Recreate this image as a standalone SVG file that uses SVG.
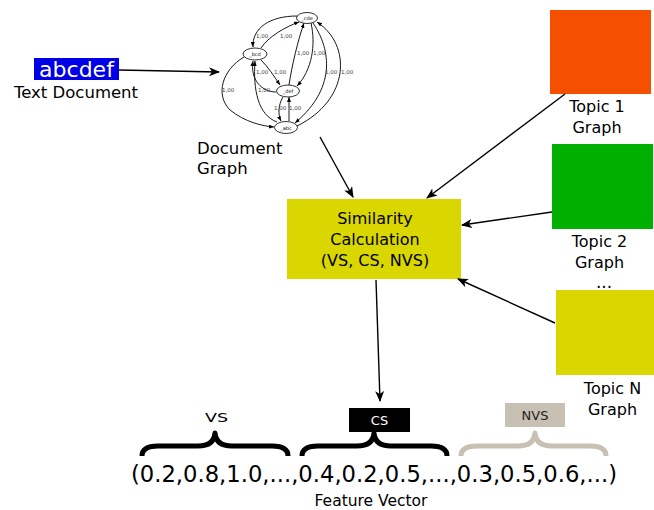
<svg xmlns="http://www.w3.org/2000/svg" width="654" height="510" viewBox="0 0 654 510">
<defs>
<marker id="ah" markerWidth="11" markerHeight="9" refX="10" refY="4.5" orient="auto" markerUnits="userSpaceOnUse">
<path d="M0,0 L11,4.5 L0,9 L3,4.5 Z" fill="#000"/>
</marker>
<marker id="sm" markerWidth="5" markerHeight="4" refX="5" refY="2" orient="auto" markerUnits="userSpaceOnUse">
<path d="M0,0 L5,2 L0,4 Z" fill="#000"/>
</marker>
</defs>
<style>
text{font-family:"DejaVu Sans","Liberation Sans",sans-serif;fill:#000}
.lbl{font-size:16px}
.mid{text-anchor:middle}
.gn{fill:#fff;stroke:#000;stroke-width:0.8}
.gt{font-size:5px;text-anchor:middle}
.el{font-size:5.5px;fill:#444}
.ge{fill:none;stroke:#000;stroke-width:0.9;marker-end:url(#sm)}
.con{fill:none;stroke:#000;stroke-width:1.4;marker-end:url(#ah)}
.brace{fill:none;stroke-width:5;stroke-linejoin:round;stroke-linecap:butt}
</style>

<g id="text-document">
<rect x="34" y="58" width="85" height="22" fill="#0000e6"/>
<text x="76.5" y="77" class="mid" style="font-size:22px;fill:#fff">abcdef</text>
<text x="76" y="98" class="mid" style="font-size:16.5px">Text Document</text>
</g>

<g id="document-graph">
<g class="edges">
<path class="ge" d="M297,16 C270,16 252,28 253,47"/>
<path class="ge" d="M261,48 C268,37 285,27 299,22"/>
<path class="ge" d="M289,85 C292,65 298,40 304,23"/>
<path class="ge" d="M311,23 C316,45 312,70 297,86"/>
<path class="ge" d="M261,60 C268,67 274,76 280,85"/>
<path class="ge" d="M276,92 C262,92 250,80 253,61"/>
<path class="ge" d="M244,57 C222,70 215,95 230,110 C245,122 262,126 274,127"/>
<path class="ge" d="M277,122 C258,115 253,90 255,61"/>
<path class="ge" d="M283,97 C278,105 278,115 281,121"/>
<path class="ge" d="M289,121 C289,112 289,105 289,97"/>
<path class="ge" d="M313,23 C328,45 340,85 295,123"/>
<path class="ge" d="M297,126 C350,100 352,45 317,22"/>
</g>
<g class="labels">
<text class="el" x="256" y="38">1,00</text>
<text class="el" x="280" y="38">1,00</text>
<text class="el" x="297" y="55">1,00</text>
<text class="el" x="313" y="55">1,00</text>
<text class="el" x="256" y="74">1,00</text>
<text class="el" x="274" y="74">1,00</text>
<text class="el" x="325" y="74">1,00</text>
<text class="el" x="341" y="74">1,00</text>
<text class="el" x="222" y="92">1,00</text>
<text class="el" x="258" y="92">1,00</text>
<text class="el" x="274" y="110">1,00</text>
<text class="el" x="289" y="110">1,00</text>
</g>
<g id="n-cde"><ellipse class="gn" cx="307" cy="18" rx="10.5" ry="5.5"/><text class="gt" x="307" y="20">_cde</text></g>
<g id="n-bcd"><ellipse class="gn" cx="255" cy="54" rx="12" ry="6"/><text class="gt" x="255" y="56">_bcd</text></g>
<g id="n-def"><ellipse class="gn" cx="288" cy="91" rx="11.5" ry="6"/><text class="gt" x="288" y="93">_def</text></g>
<g id="n-abc"><ellipse class="gn" cx="286" cy="127.5" rx="11.5" ry="6"/><text class="gt" x="286" y="129.5">_abc</text></g>
<text x="197" y="154" style="font-size:16.5px">Document</text>
<text x="197" y="174" style="font-size:16.5px">Graph</text>
</g>

<g id="similarity">
<rect x="287" y="199" width="174" height="80" fill="#d9d600"/>
<text class="lbl mid" x="375" y="224">Similarity</text>
<text class="lbl mid" x="375" y="245">Calculation</text>
<text class="lbl mid" x="375" y="266">(VS, CS, NVS)</text>
</g>

<g id="topic1">
<rect x="550" y="10" width="101" height="84" fill="#f55000"/>
<text class="lbl mid" x="597" y="112">Topic 1</text>
<text class="lbl mid" x="597" y="133">Graph</text>
</g>
<g id="topic2">
<rect x="552" y="144" width="101" height="85" fill="#00b000"/>
<text class="lbl mid" x="599.5" y="247">Topic 2</text>
<text class="lbl mid" x="599.5" y="268">Graph</text>
<text class="mid" x="604" y="288" style="font-size:17px">...</text>
</g>
<g id="topicN">
<rect x="556" y="290" width="98" height="85" fill="#d9d600"/>
<text class="lbl mid" x="612.5" y="394">Topic N</text>
<text class="lbl mid" x="612.5" y="415">Graph</text>
</g>

<g id="connectors">
<path class="con" d="M119,70 L219,72"/>
<path class="con" d="M320,137 L353,197"/>
<path class="con" d="M565,94 L427,198"/>
<path class="con" d="M552,212 L462,225"/>
<path class="con" d="M555,323 L458,279"/>
<path class="con" d="M376,280 L380,401"/>
</g>

<g id="feature-vector">
<text x="205" y="422" style="font-size:13px" textLength="23" lengthAdjust="spacingAndGlyphs">VS</text>
<rect x="349" y="408" width="61" height="24" fill="#000"/>
<text x="379.5" y="425" class="mid" style="font-size:13px;fill:#fff">CS</text>
<rect x="505" y="403" width="60" height="24" fill="#c8c0b2"/>
<text x="535" y="420" class="mid" style="font-size:13px;fill:#222">NVS</text>
<path class="brace" stroke="#000" d="M142,456 Q142,446 158,446 L198,446 Q214,446 215,433 Q216,446 232,446 L272,446 Q288,446 288,456"/>
<path class="brace" stroke="#000" d="M302,456 Q302,446 318,446 L357,446 Q373,446 374,433 Q375,446 391,446 L431,446 Q447,446 447,456"/>
<path class="brace" stroke="#c8c0b2" d="M461,456 Q461,446 477,446 L518,446 Q534,446 535,433 Q536,446 552,446 L590,446 Q606,446 606,456"/>
<text x="131" y="482" style="font-size:22.5px" textLength="486" lengthAdjust="spacingAndGlyphs">(0.2,0.8,1.0,...,0.4,0.2,0.5,...,0.3,0.5,0.6,...)</text>
<text x="371" y="506" class="mid" style="font-size:15.5px">Feature Vector</text>
</g>
</svg>
